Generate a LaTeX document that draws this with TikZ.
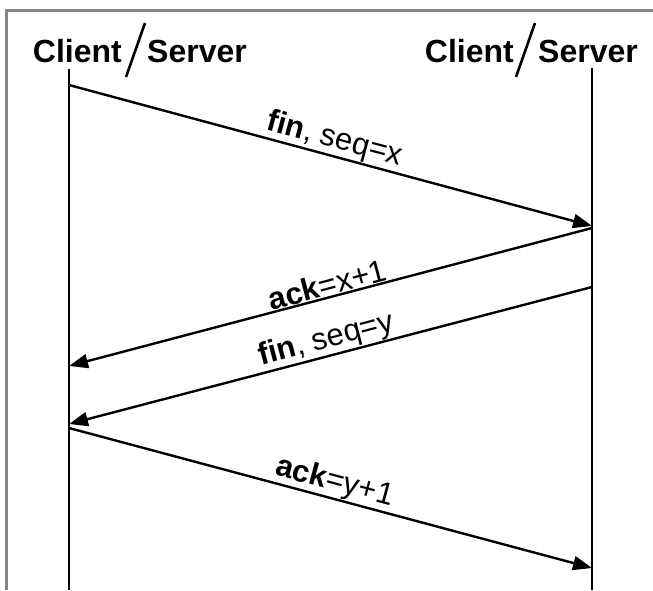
\documentclass[tikz,border=0pt]{standalone}
\usepackage{fontspec}
\setmainfont{Liberation Sans}
\usetikzlibrary{arrows.meta}
\begin{document}
\begin{tikzpicture}[x=1pt,y=-1pt,
  frame/.style={draw=black!48,line width=3.5pt},
  lifeline/.style={draw=black,line width=2.8pt},
  msg/.style={draw=black,line width=2.4pt,-{Triangle[length=19pt,width=14pt]}},
  hdr/.style={inner sep=0pt,font=\fontsize{32}{36}\selectfont\bfseries},
  slashline/.style={draw=black,line width=2.6pt},
  lbl/.style={inner sep=0.5pt,sloped,above,pos=.5,font=\fontsize{31}{34}\selectfont}]
  \useasboundingbox (0,0) rectangle (653,590);
  % outer frame (top and left edges)
  \draw[frame] (6.5,590) -- (6.5,10.5) -- (653,10.5);

  % headers
  \node[hdr,anchor=base east] (c1) at (122,62) {Client};
  \draw[slashline] (126,77) -- (145,23);
  \node[hdr,anchor=base west] (s1) at (147,62) {Server};
  \node[hdr,anchor=base east] (c2) at (514,62) {Client};
  \draw[slashline] (516,77) -- (535,23);
  \node[hdr,anchor=base west] (s2) at (538,62) {Server};

  % lifelines
  \coordinate (Ltop) at (69,69);
  \coordinate (Lbot) at (69,590);
  \coordinate (Rtop) at (592,68);
  \coordinate (Rbot) at (592,590);
  \draw[lifeline] (Ltop) -- (Lbot);
  \draw[lifeline] (Rtop) -- (Rbot);

  % message end points
  \coordinate (L1) at (69,85);
  \coordinate (R1) at (592,226);
  \coordinate (R2) at (592,228);
  \coordinate (L2) at (69,366);
  \coordinate (R3) at (592,287);
  \coordinate (L3) at (69,424);
  \coordinate (L4) at (69,428);
  \coordinate (R4) at (592,568);

  % messages
  \draw[msg] (L1) -- (R1) node[lbl] {\textbf{fin}, seq=x};
  \draw[msg] (R2) -- (L2) node[lbl] {\textbf{ack}=x+1};
  \draw[msg] (R3) -- (L3) node[lbl] {\textbf{fin}, seq=y};
  \draw[msg] (L4) -- (R4) node[lbl] {\textbf{ack}=y+1};
\end{tikzpicture}
\end{document}
